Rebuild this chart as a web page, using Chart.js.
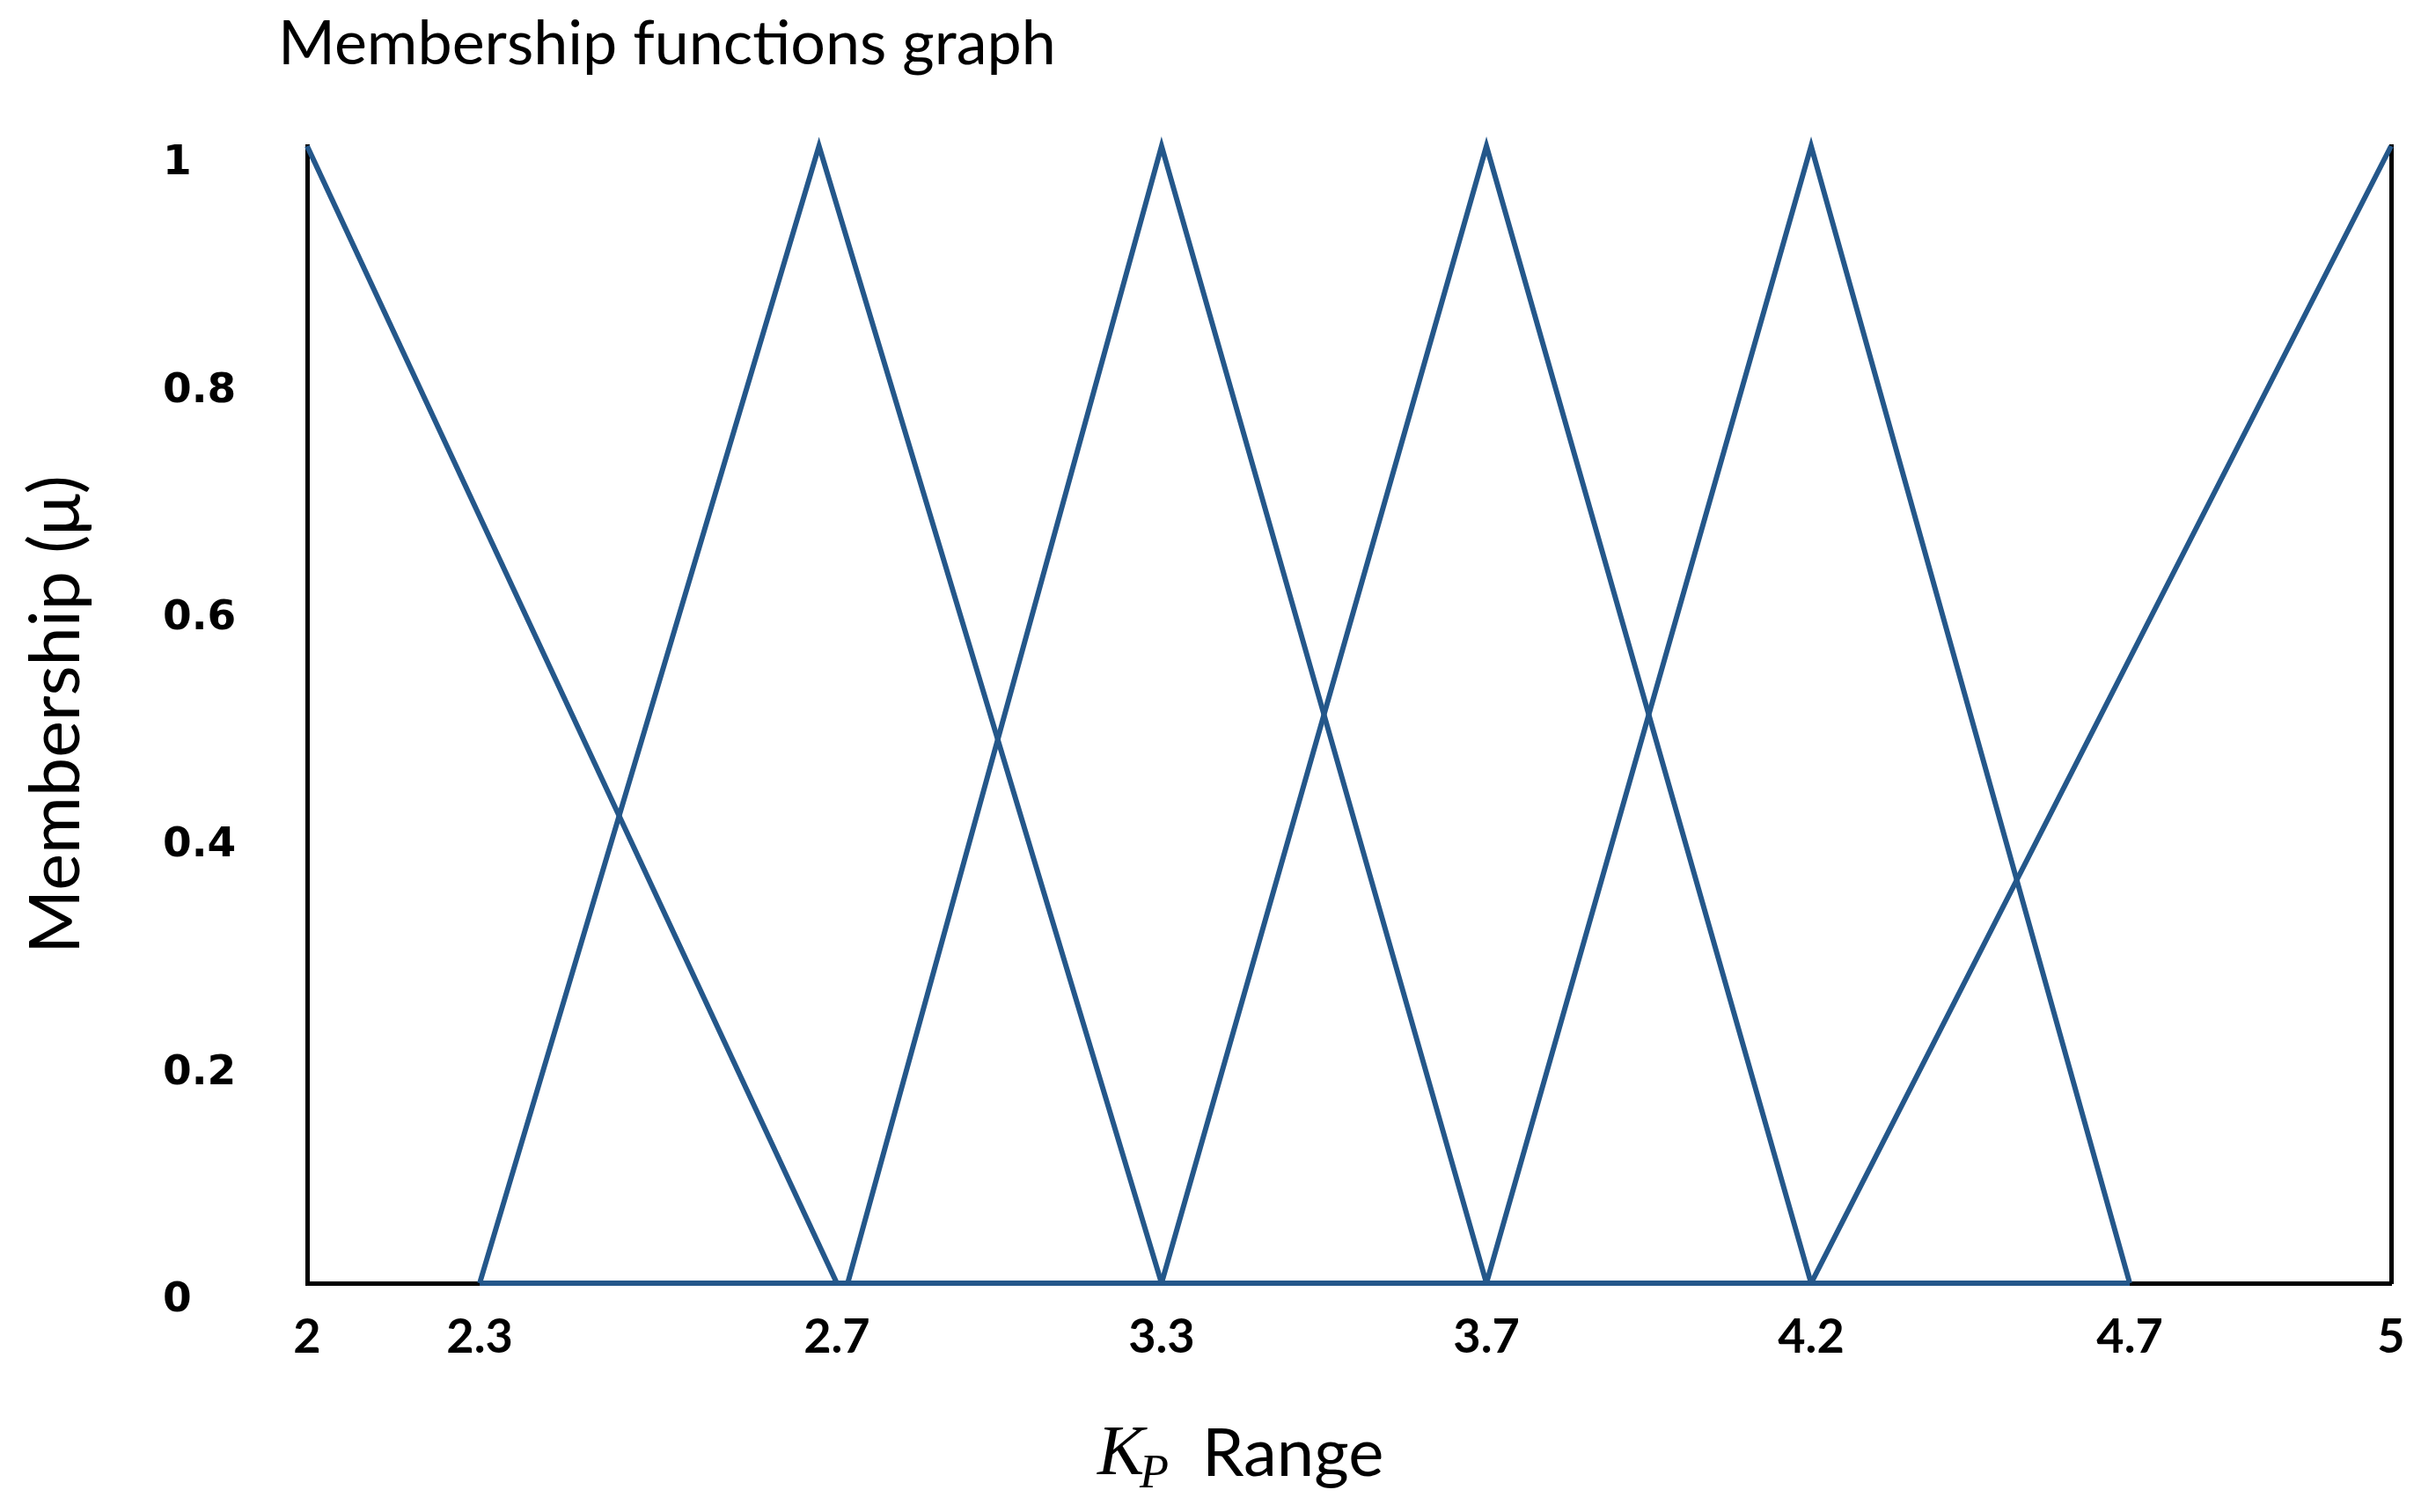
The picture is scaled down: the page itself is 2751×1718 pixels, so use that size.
<!DOCTYPE html>
<html>
<head>
<meta charset="utf-8">
<title>Membership functions graph</title>
<script src="https://cdn.jsdelivr.net/npm/chart.js@4.4.1/dist/chart.umd.min.js"></script>
<style>
  html, body { margin: 0; padding: 0; background: #fff; }
  #wrap { width: 2751px; height: 1718px; }
</style>
</head>
<body>
<div id="wrap"><canvas id="myChart" width="2751" height="1718"></canvas></div>
<script>
// --- data ---
const chartTitle = 'Membership functions graph';
const yTitle = 'Membership (\u03bc)';
const kpTicks = [2, 2.3, 2.7, 3.3, 3.7, 4.2, 4.7, 5];
const yTicks = [0, 0.2, 0.4, 0.6, 0.8, 1];

const mf1X = [2, 2.7];
const mf1Y = [1, 0];
const mf2X = [2.3, 2.68, 3.3, 4.7];
const mf2Y = [0, 1, 0, 0];
const mf3X = [2.72, 3.3, 3.7];
const mf3Y = [0, 1, 0];
const mf4X = [3.3, 3.7, 4.2];
const mf4Y = [0, 1, 0];
const mf5X = [3.7, 4.2, 4.7];
const mf5Y = [0, 1, 0];
const mf6X = [2.3, 4.2, 5];
const mf6Y = [0, 0, 1];

const lineColor = '#24578a';

// the x axis in the picture is not evenly spaced, so each tick gets its own
// place along the axis (fraction of the plot width)
const kpAxisStops = [0, 0.0828, 0.2542, 0.410, 0.5659, 0.7217, 0.8746, 1];

class KpScale extends Chart.LinearScale {
  static id = 'kp';
  getPixelForValue(value) {
    if (value === null || isNaN(value)) return NaN;
    const v = kpTicks, f = kpAxisStops;
    let i = 0;
    while (i < v.length - 2 && value > v[i + 1]) i++;
    const t = f[i] + (value - v[i]) / (v[i + 1] - v[i]) * (f[i + 1] - f[i]);
    return this.getPixelForDecimal(t);
  }
  getValueForPixel(pixel) {
    const d = this.getDecimalForPixel(pixel);
    const v = kpTicks, f = kpAxisStops;
    let i = 0;
    while (i < f.length - 2 && d > f[i + 1]) i++;
    return v[i] + (d - f[i]) / (f[i + 1] - f[i]) * (v[i + 1] - v[i]);
  }
}
Chart.register(KpScale);

const pts = (xs, ys) => xs.map((x, i) => ({ x: x, y: ys[i] }));

const series = [
  pts(mf1X, mf1Y), pts(mf2X, mf2Y), pts(mf3X, mf3Y),
  pts(mf4X, mf4Y), pts(mf5X, mf5Y), pts(mf6X, mf6Y)
];

const textPlugin = {
  id: 'texts',
  afterDraw(chart) {
    const ctx = chart.ctx;
    ctx.save();
    ctx.fillStyle = '#000';
    ctx.textBaseline = 'alphabetic';
    // title
    ctx.textAlign = 'left';
    ctx.font = '70px Lato';
    ctx.fillText(chartTitle, 316, 73);
    // y title
    ctx.save();
    ctx.translate(90, 812);
    ctx.rotate(-Math.PI / 2);
    ctx.textAlign = 'center';
    ctx.font = '79px Lato';
    ctx.fillText(yTitle, 0, 0);
    ctx.restore();
    // x title: K_P Range
    ctx.textAlign = 'left';
    ctx.font = 'italic 80px "Liberation Serif"';
    ctx.fillText('K', 1247, 1675);
    ctx.font = 'italic 54px "Liberation Serif"';
    ctx.fillText('P', 1295, 1690);
    ctx.font = '76px Lato';
    ctx.fillText('Range', 1366, 1677);
    ctx.restore();
  }
};

const ctx = document.getElementById('myChart').getContext('2d');

const membership = new Chart(ctx, {
  type: 'line',
  data: {
    datasets: series.map((d, i) => ({
      label: 'MF' + (i + 1),
      data: d,
      borderColor: lineColor,
      borderWidth: 6,
      pointRadius: 0,
      tension: 0,
      fill: false,
      clip: false
    }))
  },
  options: {
    responsive: false,
    animation: false,
    devicePixelRatio: 1,
    layout: { padding: { top: 166, left: 185, right: 34, bottom: 0 } },
    plugins: {
      legend: { display: false },
      tooltip: { enabled: false }
    },
    scales: {
      x: {
        type: 'kp',
        min: 2,
        max: 5,
        afterBuildTicks: s => { s.ticks = kpTicks.map(v => ({ value: v })); },
        afterFit: s => { s.height = 260; s.paddingLeft = 0; s.paddingRight = 0; },
        grid: { display: false, drawTicks: false },
        border: { display: true, color: '#000', width: 5 },
        ticks: {
          autoSkip: false,
          maxRotation: 0,
          padding: 29,
          color: '#000',
          font: { family: 'Lato', size: 54, weight: 'bold' },
          callback: v => String(v)
        }
      },
      y: {
        min: 0,
        max: 1,
        afterBuildTicks: s => { s.ticks = yTicks.map(v => ({ value: v })); },
        afterFit: s => { s.width = 164; },
        grid: { display: false, drawTicks: false },
        border: { display: true, color: '#000', width: 5 },
        ticks: {
          crossAlign: 'far',
          labelOffset: 20,
          color: '#000',
          font: { family: 'DejaVu Sans', size: 47, weight: 'bold' },
          callback: v => String(v)
        }
      },
      y2: {
        position: 'right',
        min: 0,
        max: 1,
        afterFit: s => { s.width = 0; },
        grid: { display: false, drawTicks: false },
        border: { display: true, color: '#000', width: 5 },
        ticks: { display: false }
      }
    }
  },
  plugins: [textPlugin]
});
</script>
</body>
</html>
